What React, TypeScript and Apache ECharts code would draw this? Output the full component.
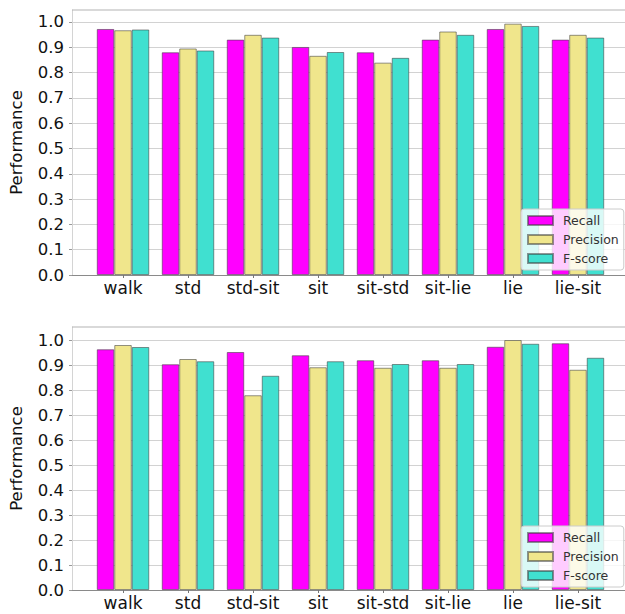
import React, { useEffect, useRef } from "react";
import * as echarts from "echarts";

// Activity classes along the x axis
const categories = ["walk", "std", "std-sit", "sit", "sit-std", "sit-lie", "lie", "lie-sit"];
const seriesNames = ["Recall", "Precision", "F-score"];
const yTicks = [0, 0.1, 0.2, 0.3, 0.4, 0.5, 0.6, 0.7, 0.8, 0.9, 1.0];

// Upper panel
const recallTop = [0.972, 0.88, 0.93, 0.901, 0.88, 0.93, 0.972, 0.93];
const precisionTop = [0.967, 0.895, 0.949, 0.866, 0.839, 0.962, 0.993, 0.949];
const fscoreTop = [0.97, 0.887, 0.938, 0.881, 0.858, 0.949, 0.984, 0.938];

// Lower panel
const recallBottom = [0.963, 0.903, 0.952, 0.939, 0.919, 0.919, 0.973, 0.987];
const precisionBottom = [0.98, 0.924, 0.779, 0.891, 0.889, 0.889, 1.0, 0.881];
const fscoreBottom = [0.972, 0.915, 0.857, 0.915, 0.904, 0.904, 0.985, 0.929];

const colors = ["#ff00ff", "#f0e68c", "#40e0d0"];
const FONT = "DejaVu Sans";

export default function App() {
  const ref = useRef<HTMLDivElement>(null);

  useEffect(() => {
    if (!ref.current) return;
    const chart = echarts.init(ref.current, undefined, { renderer: "svg" });

    const grids = [
      { left: 72, top: 10, width: 557, height: 265 },
      { left: 72, top: 327, width: 557, height: 263 },
    ];
    const yMax = [1.047, 1.052];
    const panels = [
      [recallTop, precisionTop, fscoreTop],
      [recallBottom, precisionBottom, fscoreBottom],
    ];

    const catIdx = categories.map((_, i) => i);

    const xAxis = grids.map((_, g) => ({
      type: "value",
      gridIndex: g,
      min: -0.785,
      max: 7.785,
      splitLine: { show: false },
      axisLine: { show: true, onZero: false, lineStyle: { color: "#8a8a8a", width: 1.2 } },
      axisTick: { show: true, customValues: catIdx, length: 3, lineStyle: { color: "#777" } },
      axisLabel: {
        customValues: catIdx,
        formatter: (v: number) => categories[Math.round(v)] ?? "",
        fontFamily: FONT,
        fontSize: 17,
        color: "#111",
        margin: 4,
      },
    }));

    const yAxis = grids.map((_, g) => ({
      type: "value",
      gridIndex: g,
      min: 0,
      max: yMax[g],
      name: "Performance",
      nameLocation: "middle",
      nameRotate: 90,
      nameGap: 47,
      nameTextStyle: { fontFamily: FONT, fontSize: 16.5, color: "#111" },
      axisLine: { show: true, onZero: false, lineStyle: { color: "#d4d4d4" } },
      axisTick: { show: true, customValues: yTicks, length: 3, lineStyle: { color: "#999" } },
      axisLabel: {
        customValues: yTicks,
        formatter: (v: number) => v.toFixed(1),
        fontFamily: FONT,
        fontSize: 16.5,
        color: "#111",
        margin: 8,
      },
      splitLine: { show: true, lineStyle: { color: "#d2d2d2", width: 1 } },
    }));

    const series: any[] = [];
    panels.forEach((vals, g) => {
      vals.forEach((arr, s) => {
        series.push({
          type: "bar",
          name: seriesNames[s],
          xAxisIndex: g,
          yAxisIndex: g,
          barWidth: 17.5,
          barGap: "0%",
          data: arr.map((v, i) => [i, v]),
          itemStyle: {
            color: colors[s],
            borderColor: "rgba(60,60,60,0.55)",
            borderWidth: 1,
          },
        });
      });
    });

    const legendTops = [209, 526];
    const legend = legendTops.map((top) => ({
      orient: "vertical",
      left: 521,
      top,
      data: seriesNames,
      icon: "rect",
      itemWidth: 25,
      itemHeight: 9,
      itemGap: 6,
      padding: [5, 5, 5, 6],
      backgroundColor: "rgba(255,255,255,0.8)",
      borderColor: "#cccccc",
      borderWidth: 1,
      borderRadius: 3,
      selectedMode: false,
      textStyle: { fontFamily: FONT, fontSize: 12.5, color: "#333", padding: [0, 0, 0, 5] },
    }));

    // Top frame line of each panel
    const frames = grids.map((g) => ({
      type: "line",
      shape: { x1: g.left, y1: g.top, x2: g.left + g.width, y2: g.top },
      style: { stroke: "#b4b4b4", lineWidth: 1.2 },
      z: 5,
    }));

    chart.setOption({
      animation: false,
      backgroundColor: "#ffffff",
      grid: grids,
      xAxis,
      yAxis,
      legend,
      series,
      graphic: frames,
    });

    return () => chart.dispose();
  }, []);

  return (
    <div
      style={{
        position: "fixed",
        left: 0,
        top: 0,
        width: 625,
        height: 614,
        overflow: "hidden",
        background: "#fff",
      }}
    >
      <div ref={ref} style={{ width: 640, height: 614 }} />
    </div>
  );
}
